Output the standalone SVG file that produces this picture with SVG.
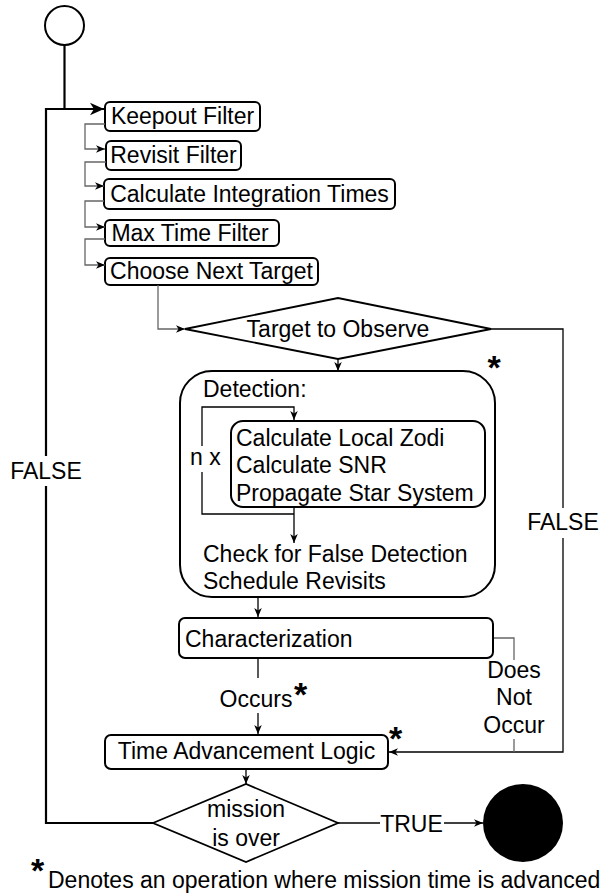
<svg xmlns="http://www.w3.org/2000/svg" width="608" height="894" viewBox="0 0 608 894">
  <style>
    text { font-family: "Liberation Sans", Arial, Helvetica, sans-serif; font-size: 23px; fill: #000; }
    .mid { text-anchor: middle; }
    .star { font-size: 34px; font-weight: bold; text-anchor: middle; }
    .box { fill: #fff; stroke: #000; stroke-width: 2; }
    .line { fill: none; stroke: #000; stroke-width: 1.3; }
    .grey { fill: none; stroke: #666; stroke-width: 1.3; }
    .thick { fill: none; stroke: #000; stroke-width: 2.2; }
    .bg { fill: #fff; stroke: none; }
  </style>
  <defs>
    <marker id="arr" viewBox="0 0 10 10" refX="10" refY="5" markerWidth="9" markerHeight="9" orient="auto" markerUnits="userSpaceOnUse">
      <path d="M0,0.8 L10,5 L0,9.2 L2.8,5 z" fill="#000"/>
    </marker>
    <marker id="arrBig" viewBox="0 0 10 10" refX="10" refY="5" markerWidth="14" markerHeight="14" orient="auto" markerUnits="userSpaceOnUse">
      <path d="M0,0.5 L10,5 L0,9.5 L2.8,5 z" fill="#000"/>
    </marker>
  </defs>

  <g id="start">
    <circle cx="64.5" cy="25.5" r="19.5" fill="#fff" stroke="#000" stroke-width="2"/>
  </g>

  <g id="keepout">
    <rect class="box" x="105" y="102" width="155" height="29" rx="5"/>
    <text class="mid" x="182.5" y="124">Keepout Filter</text>
  </g>
  <g id="revisit">
    <rect class="box" x="106" y="141" width="135" height="29" rx="5"/>
    <text class="mid" x="173.5" y="163">Revisit Filter</text>
  </g>
  <g id="integration">
    <rect class="box" x="104" y="179" width="291" height="30" rx="5"/>
    <text class="mid" x="249.5" y="201.5">Calculate Integration Times</text>
  </g>
  <g id="maxtime">
    <rect class="box" x="105" y="220" width="174" height="26" rx="5"/>
    <text class="mid" x="190" y="240.5">Max Time Filter</text>
  </g>
  <g id="choose">
    <rect class="box" x="105" y="258" width="213" height="27" rx="5"/>
    <text class="mid" x="211.5" y="278.5">Choose Next Target</text>
  </g>

  <g id="target">
    <polygon points="185,329 338,298 491,329 338,359" fill="#fff" stroke="#000" stroke-width="1.8"/>
    <text class="mid" x="338" y="337">Target to Observe</text>
  </g>

  <g id="detection">
    <rect class="box" x="180" y="371" width="315" height="226" rx="32"/>
    <text x="203" y="397">Detection:</text>
    <text x="203" y="562">Check for False Detection</text>
    <text x="203" y="589">Schedule Revisits</text>
    <text class="star" x="494" y="379">*</text>
  </g>
  <g id="detection-loop">
    <rect class="box" x="231" y="421" width="254" height="86" rx="12" stroke-width="1.8"/>
    <text x="236" y="446">Calculate Local Zodi</text>
    <text x="236" y="473">Calculate SNR</text>
    <text x="236" y="501">Propagate Star System</text>
  </g>

  <g id="characterization">
    <rect class="box" x="179" y="618" width="314" height="40" rx="6"/>
    <text x="185" y="647">Characterization</text>
  </g>

  <g id="time-advancement">
    <rect class="box" x="105" y="735" width="283" height="34" rx="6"/>
    <text class="mid" x="246.5" y="759">Time Advancement Logic</text>
    <text class="star" x="395.5" y="750">*</text>
  </g>

  <g id="mission-over">
    <polygon points="153,823 246,784 338,823 246,862" fill="#fff" stroke="#000" stroke-width="1.8"/>
    <text class="mid" x="246" y="817">mission</text>
    <text class="mid" x="246" y="846">is over</text>
  </g>

  <g id="end">
    <ellipse cx="523" cy="823" rx="40" ry="39" fill="#000"/>
  </g>

  <g id="footnote">
    <text class="star" x="37.5" y="882">*</text>
    <text x="48" y="888">Denotes an operation where mission time is advanced</text>
  </g>

  <!-- connectors, drawn over the node fills -->
  <g id="connectors">
    <path class="thick" d="M64.5,45 V109"/>
    <path class="thick" d="M153,823 H46 V109 H104" marker-end="url(#arrBig)"/>
    <path class="grey" d="M105,124 H85 V149 H105" marker-end="url(#arr)"/>
    <path class="grey" d="M106,162 H85 V186 H104" marker-end="url(#arr)"/>
    <path class="grey" d="M104,201 H85 V227 H105" marker-end="url(#arr)"/>
    <path class="grey" d="M105,239 H85 V265 H105" marker-end="url(#arr)"/>
    <path class="grey" d="M158,285 V329 H185" marker-end="url(#arr)"/>
    <path class="line" d="M338,359 V371" marker-end="url(#arr)"/>
    <path class="line" d="M491,329 H563 V752 H389" marker-end="url(#arr)"/>
    <path class="line" d="M294,514 H202 V407 H294 V420" marker-end="url(#arr)"/>
    <path class="line" d="M294,507 V543" marker-end="url(#arr)"/>
    <path class="line" d="M258,597 V617" marker-end="url(#arr)"/>
    <path class="line" d="M258,658 V734" marker-end="url(#arr)"/>
    <path class="grey" d="M494,638 H514 V752"/>
    <path class="line" d="M246,769 V784" marker-end="url(#arr)"/>
    <path class="line" d="M338,823 H483" marker-end="url(#arr)"/>

    <!-- edge labels on white backing so the lines break around them -->
    <rect class="bg" x="10" y="456" width="72" height="30"/>
    <text class="mid" x="46" y="479">FALSE</text>
    <rect class="bg" x="527" y="508" width="72" height="30"/>
    <text class="mid" x="563" y="530">FALSE</text>
    <rect class="bg" x="186" y="446" width="40" height="26"/>
    <text x="190" y="465">n x</text>
    <rect class="bg" x="219" y="678" width="73" height="35"/>
    <text class="mid" x="256" y="707">Occurs</text>
    <text class="star" x="300.5" y="706">*</text>
    <rect class="bg" x="484" y="660" width="60" height="79"/>
    <text class="mid" x="514" y="678">Does</text>
    <text class="mid" x="514" y="705">Not</text>
    <text class="mid" x="514" y="733">Occur</text>
    <rect class="bg" x="380" y="808" width="64" height="28"/>
    <text class="mid" x="411.5" y="832">TRUE</text>
  </g>
</svg>
